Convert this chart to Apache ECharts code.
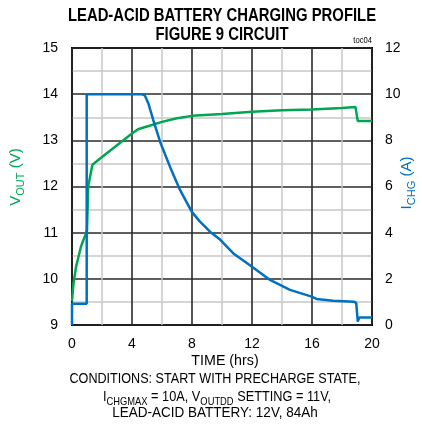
<!DOCTYPE html>
<html><head><meta charset="utf-8">
<script src="https://cdn.jsdelivr.net/npm/echarts@6/dist/echarts.min.js"></script>
<style>html,body{margin:0;padding:0;background:#fff}#c{width:422px;height:425px}</style>
</head><body><div id="c"></div>
<script>
// Data
var timeV   = [0, 0.1, 0.27, 0.45, 0.6, 0.89, 1.0, 1.08, 1.36, 2.0, 3.3, 4.0, 4.4, 5.0, 6.0, 7.0, 8.0, 10.0, 12.0, 14.0, 16.0, 18.0, 18.9, 19.05, 20];
var voltage = [9.52, 9.9, 10.26, 10.5, 10.7, 10.95, 11.05, 12.0, 12.47, 12.64, 12.97, 13.15, 13.24, 13.30, 13.40, 13.48, 13.53, 13.57, 13.62, 13.65, 13.67, 13.70, 13.72, 13.42, 13.42];
var timeI   = [0, 0, 0.98, 0.98, 4.6, 4.85, 5.09, 5.42, 5.87, 6.53, 7.2, 7.98, 8.5, 9.2, 9.87, 10.76, 11.98, 13.2, 14.53, 15.98, 16.3, 17.4, 18.8, 18.95, 19.05, 19.15, 20];
var current = [0, 0.92, 0.92, 10, 10, 9.95, 9.6, 8.88, 7.94, 6.86, 5.85, 4.91, 4.5, 4.04, 3.7, 3.1, 2.53, 1.95, 1.52, 1.23, 1.13, 1.05, 1.01, 0.95, 0.15, 0.32, 0.32];
var xTicks = [0, 4, 8, 12, 16, 20];
var vTicks = [9, 10, 11, 12, 13, 14, 15];
var iTicks = [0, 2, 4, 6, 8, 10, 12];

var FONT = '"Liberation Sans",Arial,sans-serif';
var GREEN = '#00a651', BLUE = '#0070c0';
function pairs(a, b) { return a.map(function (v, i) { return [v, b[i]]; }); }
function subRich(color, size, subSize, pad) {
  return {
    m: {fontFamily: FONT, fontSize: size, fill: color, color: color},
    s: {fontFamily: FONT, fontSize: subSize, fill: color, color: color, padding: [pad, 0, 0, 0]}
  };
}

var chart = echarts.init(document.getElementById('c'), null, {renderer: 'canvas'});
chart.setOption({
  animation: false,
  backgroundColor: '#fff',
  grid: {left: 72, right: 50, top: 48, bottom: 100, show: true, borderColor: '#000', borderWidth: 2, backgroundColor: 'transparent'},
  xAxis: {
    type: 'value', min: xTicks[0], max: xTicks[xTicks.length - 1], interval: 4,
    axisLine: {show: false}, axisTick: {show: false},
    axisLabel: {fontFamily: FONT, fontSize: 14, color: '#000', margin: 12},
    splitLine: {show: true, lineStyle: {color: '#2a2a2a', width: 1.6}},
    minorTick: {show: false, splitNumber: 2},
    minorSplitLine: {show: true, lineStyle: {color: '#c8c8c8', width: 1.5}}
  },
  yAxis: [{
    type: 'value', min: vTicks[0], max: vTicks[vTicks.length - 1], interval: 1, position: 'left',
    axisLine: {show: false}, axisTick: {show: false},
    axisLabel: {fontFamily: FONT, fontSize: 14, color: '#000', margin: 14},
    splitLine: {show: true, lineStyle: {color: '#2a2a2a', width: 1.6}},
    minorTick: {show: false, splitNumber: 2},
    minorSplitLine: {show: true, lineStyle: {color: '#c8c8c8', width: 1.5}}
  }, {
    type: 'value', min: iTicks[0], max: iTicks[iTicks.length - 1], interval: 2, position: 'right',
    axisLine: {show: false}, axisTick: {show: false},
    axisLabel: {fontFamily: FONT, fontSize: 14, color: '#000', margin: 13},
    splitLine: {show: false}
  }],
  series: [{
    type: 'line', yAxisIndex: 0, data: pairs(timeV, voltage), showSymbol: false,
    lineStyle: {color: GREEN, width: 2.5}, z: 3
  }, {
    type: 'line', yAxisIndex: 1, data: pairs(timeI, current), showSymbol: false,
    lineStyle: {color: BLUE, width: 2.5}, z: 4
  }],
  graphic: [
    {type: 'text', x: 222, y: 16, scaleX: 0.85, style: {text: 'LEAD-ACID BATTERY CHARGING PROFILE', font: 'bold 17.5px ' + FONT, fill: '#000', align: 'center', verticalAlign: 'middle'}},
    {type: 'text', x: 222, y: 35.5, scaleX: 0.85, style: {text: 'FIGURE 9 CIRCUIT', font: 'bold 17.5px ' + FONT, fill: '#000', align: 'center', verticalAlign: 'middle'}},
    {type: 'text', x: 372, y: 41, scaleX: 0.85, style: {text: 'toc04', font: '9px ' + FONT, fill: '#000', align: 'right', verticalAlign: 'middle'}},
    {type: 'text', x: 225, y: 361, scaleX: 0.95, style: {text: 'TIME (hrs)', font: '15px ' + FONT, fill: '#000', align: 'center', verticalAlign: 'middle'}},
    {type: 'text', x: 215, y: 379, scaleX: 0.84, style: {text: 'CONDITIONS: START WITH PRECHARGE STATE,', font: '15px ' + FONT, fill: '#000', align: 'center', verticalAlign: 'middle'}},
    {type: 'text', x: 217, y: 397, scaleX: 0.85, style: {
      text: '{m|I}{s|CHGMAX}{m| = 10A, V}{s|OUTDD}{m| SETTING = 11V,}',
      align: 'center', verticalAlign: 'middle', fill: '#000',
      rich: subRich('#000', 15, 11, 10)
    }},
    {type: 'text', x: 215, y: 413, scaleX: 0.9, style: {text: 'LEAD-ACID BATTERY: 12V, 84Ah', font: '15px ' + FONT, fill: '#000', align: 'center', verticalAlign: 'middle'}},
    {type: 'text', x: 16, y: 177, rotation: Math.PI / 2, style: {
      text: '{m|V}{s|OUT}{m| (V)}', align: 'center', verticalAlign: 'middle', fill: GREEN,
      rich: subRich(GREEN, 15, 11, 10)
    }},
    {type: 'text', x: 407, y: 183, rotation: Math.PI / 2, style: {
      text: '{m|I}{s|CHG}{m| (A)}', align: 'center', verticalAlign: 'middle', fill: BLUE,
      rich: subRich(BLUE, 15, 11, 10)
    }}
  ]
});
</script></body></html>
